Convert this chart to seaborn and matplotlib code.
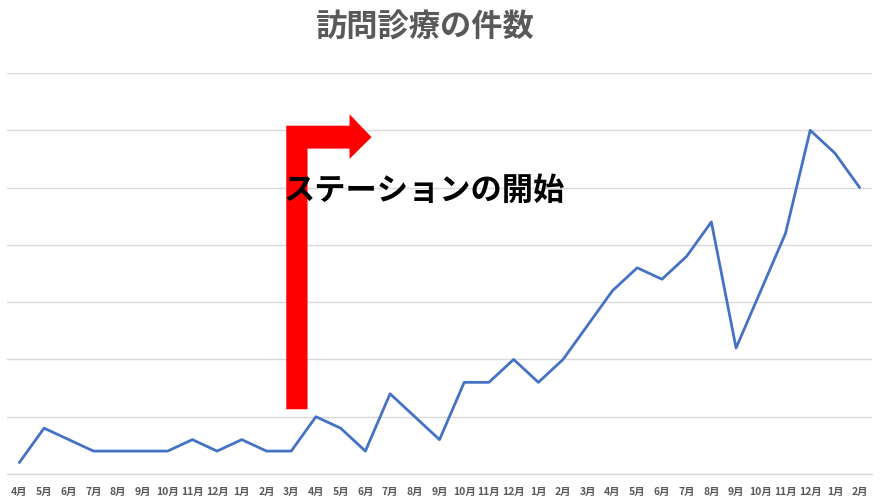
import numpy as np
import matplotlib
matplotlib.use("Agg")
import matplotlib.pyplot as plt
from matplotlib.patches import Polygon
import seaborn as sns

# monthly labels, Apr of year 1 to Feb of year 3
months = ["4月", "5月", "6月", "7月", "8月", "9月", "10月", "11月", "12月", "1月", "2月", "3月",
          "4月", "5月", "6月", "7月", "8月", "9月", "10月", "11月", "12月", "1月", "2月", "3月",
          "4月", "5月", "6月", "7月", "8月", "9月", "10月", "11月", "12月", "1月", "2月"]
visits = [1, 4, 3, 2, 2, 2, 2, 3, 2, 3, 2, 2,
          5, 4, 2, 7, 5, 3, 8, 8, 10, 8, 10, 13,
          16, 18, 17, 19, 22, 11, 16, 21, 30, 28, 25]
station_label = "ステーションの開始"
title = "訪問診療の件数"

sns.set_style("white")
plt.rcParams["font.family"] = ["Noto Sans CJK JP", "DejaVu Sans"]

GRID = "#d9d9d9"
TEXT = "#595959"

fig = plt.figure(figsize=(8.88, 5.03), dpi=100)
ax = fig.add_axes([7 / 888, 29 / 503, 865 / 888, 401 / 503])

x = np.arange(len(months))
sns.lineplot(x=x, y=visits, ax=ax, color="#4472C4", linewidth=2.0, zorder=3)

ax.set_xlim(-0.5, len(months) - 0.5)
ax.set_ylim(0, 35)
ax.set_yticks(np.arange(0, 36, 5))
ax.yaxis.grid(True, color=GRID, linewidth=1.0)
ax.set_axisbelow(True)
ax.tick_params(axis="y", left=False, labelleft=False)

ax.set_xticks(x)
ax.set_xticklabels(months, fontsize=7.5, fontweight="bold", color=TEXT)
ax.set_xticks(np.arange(-0.5, len(months), 1), minor=True)
ax.tick_params(axis="x", which="major", length=0, pad=9)
ax.tick_params(axis="x", which="minor", length=5, color=GRID, width=1, direction="out")

for side in ["top", "right", "left"]:
    ax.spines[side].set_visible(False)
ax.spines["bottom"].set_color(GRID)
ax.spines["bottom"].set_linewidth(1.0)

# bent red arrow marking the start of the station (between 3月 and 4月)
x0, x1 = 10.8, 11.66
head_base, head_tip = 13.36, 14.25
arrow = Polygon([(x0, 5.65), (x0, 30.4), (head_base, 30.4), (head_base, 31.4),
                 (head_tip, 29.4), (head_base, 27.5), (head_base, 28.4),
                 (x1, 28.4), (x1, 5.65)],
                closed=True, facecolor="#ff0000", edgecolor="none", zorder=4)
ax.add_patch(arrow)

ax.text(10.68, 24.7, station_label, fontsize=22.5, fontweight="bold",
        color="black", va="center", ha="left", zorder=5)

fig.text(424 / 888, 1 - 28 / 503, title, fontsize=22.5, fontweight="bold",
         color=TEXT, ha="center", va="center")

fig.savefig("out.png", dpi=100)
